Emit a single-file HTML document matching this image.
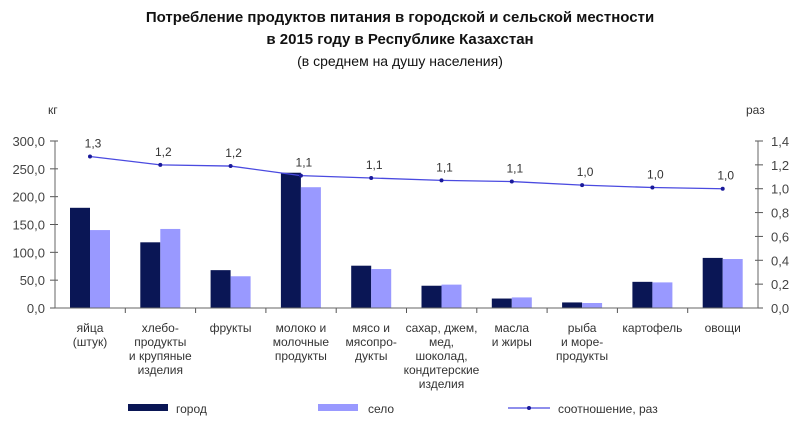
<!DOCTYPE html>
<html><head><meta charset="utf-8"><style>body{margin:0;background:#fff}svg{display:block;font-family:"Liberation Sans",sans-serif}</style></head><body>
<svg width="800" height="422" viewBox="0 0 800 422">
<g font-weight="bold" font-size="15" text-anchor="middle" fill="#111">
<text x="400" y="22">Потребление продуктов питания в городской и сельской местности</text>
<text x="400" y="44">в 2015  году  в Республике Казахстан</text>
</g>
<text x="400" y="66" font-size="14" text-anchor="middle" fill="#111">(в среднем на душу населения)</text>
<g font-size="12" fill="#333">
<text x="48" y="114">кг</text><text x="746" y="114">раз</text>
</g>
<g id="c"></g>
</svg>
<script>
const s=document.querySelector('#c'),NS='http://www.w3.org/2000/svg';
function e(t,a,txt){const n=document.createElementNS(NS,t);for(const k in a)n.setAttribute(k,a[k]);if(txt)n.textContent=txt;s.appendChild(n);return n}
const X0=55,X1=758,Y0=308,Y1=141,W=(X1-X0)/10;
const city=[180,118,68,243,76,40,17,10,47,90],rur=[140,142,57,217,70,42,19,9,46,88];
const r=[1.27,1.2,1.19,1.11,1.09,1.07,1.06,1.03,1.01,1.0],rl=['1,3','1,2','1,2','1,1','1,1','1,1','1,1','1,0','1,0','1,0'];
const yl=v=>Y0-(v/300)*(Y0-Y1),yr=v=>Y0-(v/1.4)*(Y0-Y1);
for(let i=0;i<=6;i++){const y=yl(i*50);e('line',{x1:X0-5,x2:X0+3,y1:y,y2:y,stroke:'#555'});e('text',{x:X0-10,y:y+5,'font-size':13,'text-anchor':'end',fill:'#444'},(i*50).toFixed(1).replace('.',','));}
for(let i=0;i<=7;i++){const y=yr(i*0.2);e('line',{x1:X1-3,x2:X1+5,y1:y,y2:y,stroke:'#555'});e('text',{x:X1+13,y:y+5,'font-size':13,fill:'#444'},(i*0.2).toFixed(1).replace('.',','));}
for(let i=0;i<10;i++){const x=X0+i*W;
e('rect',{x:x+15,y:yl(city[i]),width:20,height:Y0-yl(city[i]),fill:'#0a1655'});
e('rect',{x:x+35,y:yl(rur[i]),width:20,height:Y0-yl(rur[i]),fill:'#9999ff'});
if(i>0)e('line',{x1:x,x2:x,y1:Y0,y2:Y0+5,stroke:'#555'});}
e('line',{x1:X0,x2:X0,y1:Y1,y2:Y0,stroke:'#666'});e('line',{x1:X1,x2:X1,y1:Y1,y2:Y0,stroke:'#666'});
e('line',{x1:X0,x2:X1,y1:Y0,y2:Y0,stroke:'#666'});
let p=r.map((v,i)=>(X0+i*W+35)+','+yr(v)).join(' ');
e('polyline',{points:p,fill:'none',stroke:'#4a4ae0','stroke-width':1.3});
r.forEach((v,i)=>{const x=X0+i*W+35;e('circle',{cx:x,cy:yr(v),r:2,fill:'#1a1a9a'});e('text',{x:x+3,y:yr(v)-9,'font-size':12,'text-anchor':'middle',fill:'#333'},rl[i]);});
const labs=[['яйца','(штук)'],['хлебо-','продукты','и крупяные','изделия'],['фрукты'],['молоко и','молочные','продукты'],['мясо и','мясопро-','дукты'],['сахар, джем,','мед,','шоколад,','кондитерские','изделия'],['масла','и жиры'],['рыба','и море-','продукты'],['картофель'],['овощи']];
labs.forEach((l,i)=>{const x=X0+i*W+35;l.forEach((t,j)=>e('text',{x:x,y:332+j*14,'font-size':12,'text-anchor':'middle',fill:'#333'},t));});
e('rect',{x:128,y:404,width:40,height:7,fill:'#0a1655'});e('text',{x:176,y:413,'font-size':12,fill:'#333'},'город');
e('rect',{x:318,y:404,width:40,height:7,fill:'#9999ff'});e('text',{x:368,y:413,'font-size':12,fill:'#333'},'село');
e('line',{x1:508,x2:550,y1:408,y2:408,stroke:'#4a4ae0','stroke-width':1.3});e('circle',{cx:529,cy:408,r:2,fill:'#1a1a9a'});
e('text',{x:558,y:413,'font-size':12,fill:'#333'},'соотношение,  раз');
</script>
</body></html>
